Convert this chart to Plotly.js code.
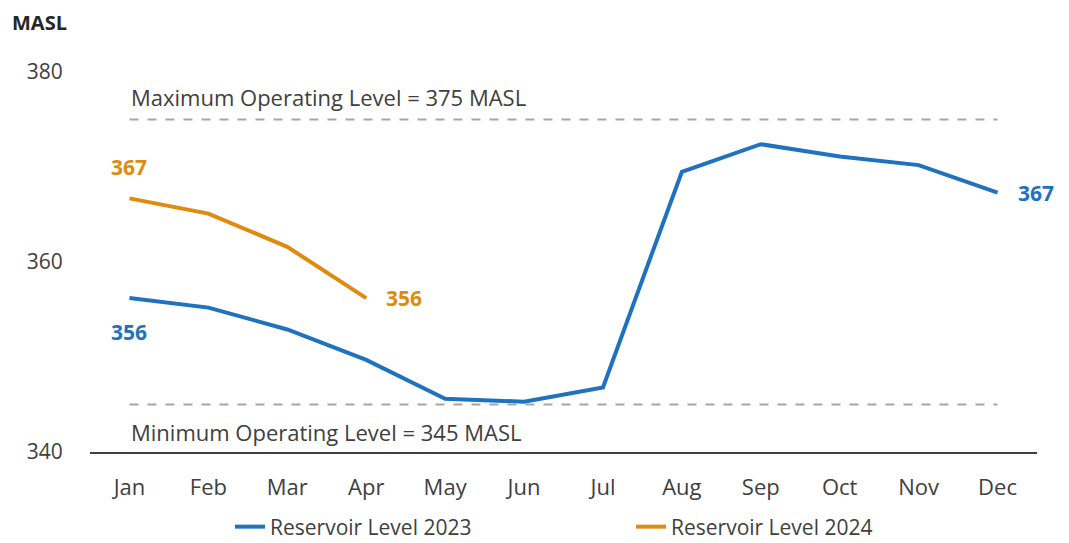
<!DOCTYPE html>
<html>
<head>
<meta charset="utf-8">
<script src="https://cdn.plot.ly/plotly-3.0.1.min.js"></script>
<style>
  html, body { margin: 0; padding: 0; background: #fff; }
  #chart { width: 1069px; height: 543px; }
</style>
</head>
<body>
<div id="chart"></div>
<script>
const months = ['Jan', 'Feb', 'Mar', 'Apr', 'May', 'Jun', 'Jul', 'Aug', 'Sep', 'Oct', 'Nov', 'Dec'];
const level2023 = [356.2, 355.2, 352.9, 349.7, 345.6, 345.3, 346.8, 369.5, 372.4, 371.1, 370.2, 367.3];
const level2024 = [366.7, 365.1, 361.6, 356.2];
const maxLevel = 375;
const minLevel = 345;
const yTicks = [340, 360, 380];

const blue = '#1f72c0';
const orange = '#e08a10';
const font = 'Open Sans, Noto Sans, sans-serif';

const traces = [
  {
    x: months, y: level2023, name: 'Reservoir Level 2023',
    mode: 'lines', line: { color: blue, width: 4 }
  },
  {
    x: months.slice(0, level2024.length), y: level2024, name: 'Reservoir Level 2024',
    mode: 'lines', line: { color: orange, width: 4 }
  }
];

const last = months.length - 1;
const last24 = level2024.length - 1;

// reference lines for operating limits
const shapes = [maxLevel, minLevel].map(v => ({
  type: 'line', xref: 'x', yref: 'y',
  x0: months[0], x1: months[last], y0: v, y1: v,
  line: { color: '#a6a6a6', width: 2, dash: 'dash' }
}));

const label = (x, y, text, color, xs, ys, anchor) => ({
  x, y, xref: 'x', yref: 'y', text, showarrow: false,
  xshift: xs, yshift: ys, xanchor: anchor,
  font: { family: font, size: 21, color, weight: 'bold' }
});

const annotations = [
  label(months[0], level2023[0], Math.round(level2023[0]), blue, 0, -34, 'center'),
  label(months[last], level2023[last], Math.round(level2023[last]), blue, 18, 0, 'left'),
  label(months[0], level2024[0], Math.round(level2024[0]), orange, 0, 31, 'center'),
  label(months[last24], level2024[last24], Math.round(level2024[last24]), orange, 18, 0, 'left'),
  {
    x: 0, y: maxLevel, xref: 'x', yref: 'y', xanchor: 'left', yanchor: 'middle',
    xshift: 0, yshift: 23, showarrow: false, text: 'Maximum Operating Level = ' + maxLevel + ' MASL',
    font: { family: font, size: 22, color: '#404040' }
  },
  {
    x: 0, y: minLevel, xref: 'x', yref: 'y', xanchor: 'left', yanchor: 'middle',
    xshift: 0, yshift: -27, showarrow: false, text: 'Minimum Operating Level = ' + minLevel + ' MASL',
    font: { family: font, size: 22, color: '#404040' }
  },
  {
    x: (10 - 90) / 947, y: 1 + (72 - 22) / 380, xref: 'paper', yref: 'paper',
    xanchor: 'left', yanchor: 'middle',
    showarrow: false, text: '<b>MASL</b>',
    font: { family: font, size: 20, color: '#262626' }
  }
];

const layout = {
  width: 1069, height: 543,
  margin: { l: 90, r: 32, t: 72, b: 91, autoexpand: false },
  paper_bgcolor: '#fff', plot_bgcolor: '#fff',
  font: { family: font, size: 21, color: '#404040' },
  showlegend: true,
  legend: {
    orientation: 'h', x: (230 - 90) / 947, y: 1 - (527 - 72) / 380, xanchor: 'left', yanchor: 'middle',
    entrywidth: 356, entrywidthmode: 'pixels',
    font: { family: font, size: 21, color: '#404040' }
  },
  xaxis: {
    type: 'category', range: [-0.5, 11.5],
    showgrid: false, zeroline: false,
    showline: true, linecolor: '#404040', linewidth: 2,
    ticks: 'outside', ticklen: 15, tickcolor: 'rgba(0,0,0,0)',
    tickfont: { family: font, size: 22, color: '#404040' }
  },
  yaxis: {
    range: [340, 380], tickvals: yTicks,
    showgrid: false, zeroline: false, showline: false,
    ticks: 'outside', ticklen: 22, tickcolor: 'rgba(0,0,0,0)',
    tickfont: { family: font, size: 21, color: '#404040' }
  },
  shapes, annotations
};

Plotly.newPlot('chart', traces, layout, { displayModeBar: false, responsive: false });
</script>
</body>
</html>
